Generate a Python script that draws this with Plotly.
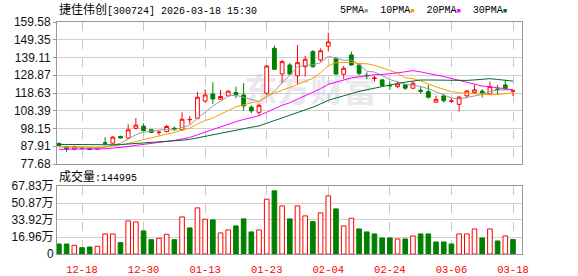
import plotly.graph_objects as go
import pandas as pd

# ---------------- data ----------------
dates = ["2025-12-15", "2025-12-16", "2025-12-17", "2025-12-18", "2025-12-19",
         "2025-12-22", "2025-12-23", "2025-12-24", "2025-12-25", "2025-12-26",
         "2025-12-29", "2025-12-30", "2025-12-31", "2026-01-05", "2026-01-06",
         "2026-01-07", "2026-01-08", "2026-01-09", "2026-01-12", "2026-01-13",
         "2026-01-14", "2026-01-15", "2026-01-16", "2026-01-19", "2026-01-20",
         "2026-01-21", "2026-01-22", "2026-01-23", "2026-01-26", "2026-01-27",
         "2026-01-28", "2026-01-29", "2026-01-30", "2026-02-02", "2026-02-03",
         "2026-02-04", "2026-02-05", "2026-02-06", "2026-02-09", "2026-02-10",
         "2026-02-11", "2026-02-12", "2026-02-13", "2026-02-24", "2026-02-25",
         "2026-02-26", "2026-02-27", "2026-03-02", "2026-03-03", "2026-03-04",
         "2026-03-05", "2026-03-06", "2026-03-09", "2026-03-10", "2026-03-11",
         "2026-03-12", "2026-03-13", "2026-03-16", "2026-03-17", "2026-03-18"]

opens = [89.6, 87.8, 86.3, 87.2, 86.7, 86.2, 90.0, 89.7, 93.6, 92.7,
         98.3, 99.5, 97.4, 95.8, 96.4, 98.3, 97.4, 103.2, 104.1, 114.0,
         118.1, 115.1, 117.0, 118.9, 117.5, 110.5, 107.5, 118.5, 144.4, 129.6,
         134.8, 128.6, 133.8, 142.5, 137.7, 145.6, 138.6, 129.5, 140.6, 134.8,
         128.9, 127.0, 126.2, 123.0, 122.3, 123.3, 121.4, 120.2, 119.4, 113.3,
         116.9, 113.8, 112.1, 117.0, 118.8, 119.7, 118.1, 121.0, 123.3, 119.7]
highs = [89.9, 88.0, 88.2, 87.8, 87.3, 87.4, 93.2, 93.9, 94.0, 100.6,
         104.2, 101.2, 97.8, 96.8, 100.4, 99.3, 107.5, 105.4, 119.4, 120.8,
         124.9, 120.4, 120.0, 122.3, 124.3, 111.5, 112.5, 134.8, 145.9, 137.7,
         135.8, 146.3, 140.0, 143.4, 144.4, 153.4, 139.5, 134.2, 142.5, 135.4,
         130.6, 128.6, 126.7, 125.2, 125.2, 124.0, 125.2, 122.3, 123.3, 117.1,
         118.1, 115.6, 117.0, 120.4, 123.3, 120.8, 125.2, 123.3, 126.2, 120.4]
lows = [88.2, 84.5, 85.5, 86.3, 85.7, 85.9, 88.5, 89.3, 92.5, 92.2,
        97.6, 96.4, 95.7, 94.2, 96.0, 96.8, 96.8, 100.6, 103.5, 113.1,
        112.3, 114.6, 116.6, 115.6, 108.5, 107.0, 105.6, 117.5, 131.9, 124.3,
        129.0, 123.3, 128.1, 133.3, 136.7, 142.5, 129.3, 126.6, 134.4, 129.0,
        126.6, 125.2, 122.4, 120.4, 121.4, 120.5, 120.8, 118.1, 115.4, 113.1,
        113.1, 113.1, 107.9, 115.6, 118.5, 116.0, 117.5, 118.1, 120.4, 116.9]
closes = [88.4, 86.3, 87.6, 86.8, 86.0, 87.0, 89.7, 93.2, 92.7, 97.4,
          100.1, 97.0, 95.9, 96.0, 99.3, 98.0, 103.5, 103.4, 116.2, 117.5,
          115.2, 116.6, 119.7, 117.7, 111.2, 108.3, 111.5, 134.2, 132.3, 136.7,
          129.6, 136.1, 138.1, 133.8, 143.0, 148.1, 129.6, 132.9, 134.8, 130.0,
          128.6, 127.3, 122.9, 122.8, 123.9, 121.4, 124.3, 119.6, 116.2, 115.0,
          114.2, 114.0, 116.2, 119.8, 120.4, 118.7, 122.3, 120.6, 121.0, 119.9]

# volume in 万 (10k)
volumes = [10, 10, 8.7, 6.3, 7, 7.7, 20, 20, 11.3, 33,
           32, 23, 14.3, 15.7, 19.7, 14.3, 37, 26, 46, 34.7,
           34, 21, 24, 28, 35, 22, 24, 54.7, 63, 48,
           35, 48, 38, 32.3, 41, 58, 45, 28, 35.7, 25,
           22, 20, 16, 16, 15, 15, 18, 20, 20, 12,
           12, 10, 20, 20, 25, 16, 25, 13, 18, 14.5]
# R = up (hollow red), G = down (solid green)
vol_dir = list("GGRGGRRRGRRGGRRGRGRRGRRGGGRRGRGRRGRRGRRGGGGGRGRGGGGGRRRGRGRG")

price_ticks = [77.68, 87.91, 98.15, 108.39, 118.63, 128.87, 139.11, 149.35, 159.58]
vol_ticks = [0, 16.96, 33.92, 50.87, 67.83]
vol_tick_text = ["0", "16.96万", "33.92万", "50.87万", "67.83万"]
date_tick_idx = [3, 11, 19, 27, 35, 43, 51, 59]
date_tick_text = ["12-18", "12-30", "01-13", "01-23", "02-04", "02-24", "03-06", "03-18"]

ma_periods = [5, 10, 20, 30]
ma_names = ["5PMA", "10PMA", "20PMA", "30PMA"]
ma_colors = ["#9a9a9a", "#f5a000", "#ff00ff", "#006a2e"]
# level of each average at the first visible candle,
# standing in for the closes before the visible window
ma_start = [87.5, 87.5, 86.0, 89.0]

title_code = "捷佳伟创"
title_rest = "[300724] 2026-03-18 15:30"
vol_label = "成交量"
last_vol_shares = "144995"
watermark = "东方财富"

RED = "#ff0000"
GREEN = "#008000"

# ---------------- figure ----------------
fig = go.Figure()

for p, start, name, col in zip(ma_periods, ma_start, ma_names, ma_colors):
    ext = pd.Series([start] * (p - 1) + closes)
    ma = ext.rolling(p).mean().iloc[p - 1:].to_list()
    fig.add_trace(go.Scatter(x=dates, y=ma, mode="lines", name=name,
                             line=dict(color=col, width=1), xaxis="x", yaxis="y",
                             showlegend=False, hoverinfo="skip"))

fig.add_trace(go.Candlestick(
    x=dates, open=opens, high=highs, low=lows, close=closes,
    increasing=dict(line=dict(color=RED, width=1), fillcolor="#ffffff"),
    decreasing=dict(line=dict(color=GREEN, width=1), fillcolor=GREEN),
    whiskerwidth=0, xaxis="x", yaxis="y", showlegend=False))

bar_fill = ["#ffffff" if d == "R" else GREEN for d in vol_dir]
bar_line = [RED if d == "R" else GREEN for d in vol_dir]
fig.add_trace(go.Bar(x=dates, y=volumes, xaxis="x2", yaxis="y2",
                     marker=dict(color=bar_fill, line=dict(color=bar_line, width=1)),
                     width=0.6, showlegend=False))

tick_dates = [dates[i] for i in date_tick_idx]
num_font = dict(family="Liberation Sans, Noto Sans CJK SC", size=12, color="#111111")
mono = "Liberation Mono, Noto Sans CJK SC"

x_common = dict(type="category", range=[-0.25, 60.17], tickvals=tick_dates,
                showgrid=True, gridcolor="#c8c8c8", griddash="dash", gridwidth=1,
                showline=True, mirror=True, linecolor="#999999", linewidth=1,
                zeroline=False, fixedrange=True, automargin=False)

fig.update_layout(
    width=578, height=276,
    margin=dict(l=57, r=56, t=22, b=22, autoexpand=False),
    paper_bgcolor="white", plot_bgcolor="white",
    showlegend=False,
    xaxis=dict(**x_common, domain=[0, 1], anchor="y", showticklabels=False,
               ticks="", rangeslider=dict(visible=False)),
    yaxis=dict(domain=[0.3879, 1], range=[77.68, 159.58], tickvals=price_ticks,
               ticktext=["%.2f" % v for v in price_ticks],
               showgrid=True, gridcolor="#cfcfcf", gridwidth=1,
               showline=True, mirror=True, linecolor="#999999", linewidth=1,
               ticks="outside", ticklen=3, tickcolor="#999999", automargin=False,
               tickfont=num_font, zeroline=False, fixedrange=True),
    xaxis2=dict(**x_common, domain=[0, 1], anchor="y2", matches="x",
                ticktext=date_tick_text, showticklabels=True,
                ticks="outside", ticklen=5, tickcolor="rgba(0,0,0,0)",
                tickfont=dict(family=mono, size=10.5, color=RED)),
    yaxis2=dict(domain=[0, 0.2931], range=[0, 67.83], tickvals=vol_ticks,
                ticktext=vol_tick_text, automargin=False,
                showgrid=True, gridcolor="#cfcfcf", gridwidth=1,
                showline=True, mirror=True, linecolor="#999999", linewidth=1,
                ticks="", tickfont=num_font, zeroline=False, fixedrange=True),
)

# watermark behind the candles
fig.add_shape(type="rect", xref="x domain", yref="y domain",
              x0=0.36, x1=0.73, y0=0.36, y1=0.64,
              line=dict(width=0), fillcolor="rgba(0,0,0,0)", layer="below",
              label=dict(text=watermark, textposition="middle center",
                         font=dict(family="Noto Sans CJK SC", size=33,
                                   color="#e8e8ee", weight=700)))

# title
fig.add_annotation(xref="paper", yref="paper", x=0, y=(254 - 10) / 232,
                   xanchor="left", yanchor="middle", showarrow=False,
                   text="<span style='font-size:12px'>%s</span>%s" % (title_code, title_rest),
                   font=dict(family=mono, size=10, color="#000000"))

# MA legend
parts = []
for name, col in zip(ma_names, ma_colors):
    parts.append("%s<span style='color:%s;font-size:7px'>■</span>" % (name, col))
fig.add_annotation(xref="paper", yref="paper", x=(338 - 57) / 465, y=(254 - 10) / 232,
                   xanchor="left", yanchor="middle", showarrow=False,
                   text="  ".join(parts),
                   font=dict(family=mono, size=10, color="#000000"))

# volume label
fig.add_annotation(xref="paper", yref="paper", x=0, y=(254 - 177) / 232,
                   xanchor="left", yanchor="middle", showarrow=False,
                   text="<span style='font-size:12px'>%s</span>:%s" % (vol_label, last_vol_shares),
                   font=dict(family=mono, size=10, color="#000000"))

fig.write_html("out.html")
